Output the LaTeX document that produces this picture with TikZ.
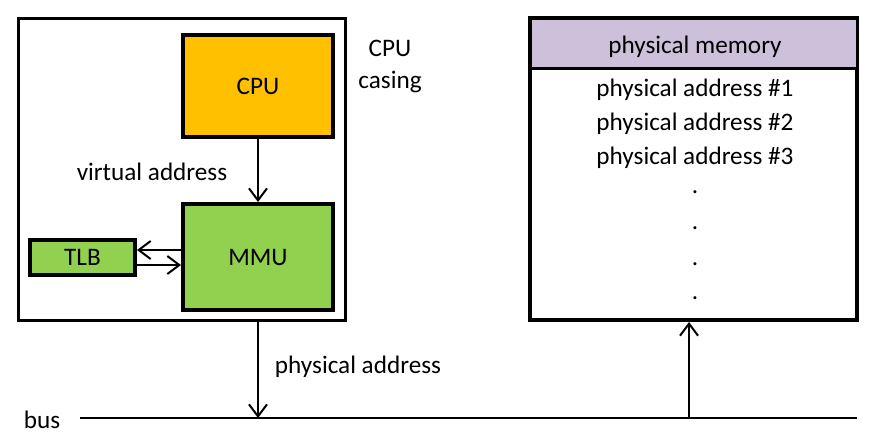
\documentclass[tikz,border=0pt]{standalone}
\usepackage{fontspec}
\setmainfont{Carlito}
\usepackage{xcolor}
\usepackage{tikz}
\usetikzlibrary{arrows.meta, positioning, calc}

\definecolor{cpuorange}{HTML}{FFC000}
\definecolor{mmugreen}{HTML}{92D050}
\definecolor{memlilac}{HTML}{CCC0DA}

\begin{document}
\begin{tikzpicture}[
        x=0.5pt, y=-0.5pt,
        every node/.style={font=\fontsize{12.6}{16}\selectfont},
        casing/.style={rectangle, draw=black, line width=1.5pt, minimum width=163.5pt, minimum height=151pt, inner sep=0pt},
        unit/.style={rectangle, draw=black, line width=2pt, minimum width=75pt, inner sep=0pt, align=center},
        memhead/.style={rectangle, draw=black, line width=1.5pt, fill=memlilac, minimum width=163.5pt, minimum height=25pt, inner sep=0pt},
        arrow/.style={-{Straight Barb[length=6pt, width=9pt]}, line width=1pt},
        label/.style={align=center, inner sep=0pt}
    ]
    \useasboundingbox (0,0) rectangle (872,436);

    % Nodes
    \node[casing] (casing) at (181.5,169) {};
    \node[unit, fill=cpuorange, minimum height=51pt] (cpu) at (258,86) {CPU};
    \node[unit, fill=mmugreen, minimum height=53pt] (mmu) at (258,257) {MMU};
    \node[unit, fill=mmugreen, minimum width=52.5pt, minimum height=17.5pt] (tlb) at (82.5,257.5) {TLB};
    \node[label] (casingtext) at (390,66) {CPU\\casing};
    \node[label] (virtual) at (152,172) {virtual address};
    \node[label] (physical) at (358,367) {physical address};
    \node[label] (bus) at (42,420) {bus};

    \node[casing, line width=2pt] (memory) at (693.5,169) {};
    \node[memhead] (memtitle) at (693.5,43) {};
    \node[label] (memtext) at (695,47) {physical memory};
    \foreach \i/\ypos in {1/90, 2/124, 3/158}
        \node[label] (addr\i) at (695,\ypos) {physical address \#\i};
    \foreach \ypos [count=\j] in {192, 228, 264, 298}
        \node[label] (dot\j) at (695,\ypos) {.};

    \coordinate (busleft) at (80,418);
    \coordinate (busright) at (857,418);
    \coordinate (memin) at (689,418);

    % Arrows
    \draw[arrow] (cpu) -- (mmu);
    \draw[arrow] ([yshift=3.5pt]mmu.west) -- ([yshift=3.5pt]mmu.west -| tlb.east);
    \draw[arrow] ([yshift=-4pt]mmu.west -| tlb.east) -- ([yshift=-4pt]mmu.west);
    \draw[arrow] (cpu |- casing.south) -- (cpu |- busleft);
    \draw[arrow] (memin) -- (memin |- memory.south);

    % Bus
    \draw[line width=1pt] (busleft) -- (busright);

\end{tikzpicture}
\end{document}
